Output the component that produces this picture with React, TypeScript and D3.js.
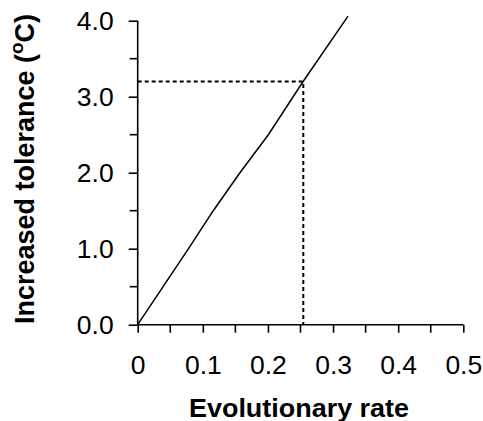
import * as d3 from "d3";
import { useEffect, useRef } from "react";

// values
const rate = [0, 0.078, 0.116, 0.157, 0.2006, 0.254, 0.323];
const tolerance = [0, 1.0, 1.5, 2.0, 2.5, 3.2, 4.06];
const xTicks = [0, 0.1, 0.2, 0.3, 0.4, 0.5];
const xMinor = [0.05, 0.15, 0.25, 0.35, 0.45];
const yTicks = [0, 1, 2, 3, 4];
const yMinor = [0.5, 1.5, 2.5, 3.5];
const marker = [0.2543, 3.2];

export default function App() {
  const svgRef = useRef(null);

  useEffect(() => {
    const width = 483;
    const height = 421;
    const svg = d3.select(svgRef.current);
    svg.selectAll("*").remove();

    //scales
    const x = d3.scaleLinear().domain([0, 0.5]).range([137.7, 463.3]);
    const y = d3.scaleLinear().domain([0, 4]).range([324.7, 20.7]);
    const font = "'Liberation Sans', Arial, Helvetica, sans-serif";

    //axes
    const xAxis = d3
      .axisBottom(x)
      .tickValues(xTicks)
      .tickFormat((d) => (d === 0 ? "0" : d3.format(".1f")(d)))
      .tickSize(8)
      .tickPadding(22);
    const gx = svg
      .append("g")
      .attr("transform", `translate(0,${y(0)})`)
      .call(xAxis);
    gx.select(".domain").attr("d", `M${x(0)},0H${x(0.5)}`);
    gx.selectAll(".minor")
      .data(xMinor)
      .enter()
      .append("line")
      .attr("class", "minor")
      .attr("x1", (d) => x(d))
      .attr("x2", (d) => x(d))
      .attr("y1", 0)
      .attr("y2", 8)
      .attr("stroke", "#000");

    const yAxis = d3
      .axisLeft(y)
      .tickValues(yTicks)
      .tickFormat(d3.format(".1f"))
      .tickSize(9)
      .tickPadding(15);
    const gy = svg
      .append("g")
      .attr("transform", `translate(${x(0)},0)`)
      .call(yAxis);
    gy.select(".domain").attr("d", `M0,${y(0)}V${y(4)}`);
    gy.selectAll(".minor")
      .data(yMinor)
      .enter()
      .append("line")
      .attr("class", "minor")
      .attr("y1", (d) => y(d))
      .attr("y2", (d) => y(d))
      .attr("x1", 0)
      .attr("x2", -8)
      .attr("stroke", "#000");

    svg.selectAll(".domain, .tick line, .minor").attr("stroke", "#000").attr("stroke-width", 1.6);
    svg.selectAll(".tick text")
      .attr("font-family", font)
      .attr("font-size", 26.5)
      .attr("fill", "#000");

    //dotted guides
    const guide = d3.line();
    svg
      .append("path")
      .attr("d", guide([[x(0), y(marker[1])], [x(marker[0]), y(marker[1])], [x(marker[0]), y(0)]]))
      .attr("fill", "none")
      .attr("stroke", "#000")
      .attr("stroke-width", 2)
      .attr("stroke-dasharray", "4,3");

    //the line
    const line = d3
      .line()
      .x((d) => x(d[0]))
      .y((d) => y(d[1]));
    svg
      .append("path")
      .attr("d", line(rate.map((r, i) => [r, tolerance[i]])))
      .attr("fill", "none")
      .attr("stroke", "#000")
      .attr("stroke-width", 1.5);

    //axis titles
    svg
      .append("text")
      .attr("x", 299)
      .attr("y", 416.5)
      .attr("text-anchor", "middle")
      .attr("font-family", font)
      .attr("font-weight", "bold")
      .attr("font-size", 25)
      .attr("textLength", 220)
      .attr("lengthAdjust", "spacingAndGlyphs")
      .text("Evolutionary rate");

    const yl = svg
      .append("text")
      .attr("transform", "translate(33.5,169) rotate(-90)")
      .attr("text-anchor", "middle")
      .attr("font-family", font)
      .attr("font-weight", "bold")
      .attr("font-size", 27);
    yl.append("tspan").text("Increased tolerance (");
    yl.append("tspan").attr("dy", -11).attr("font-size", 19).text("o");
    yl.append("tspan").attr("dy", 11).text("C)");

    svg.attr("width", width).attr("height", height);
  }, []);

  return (
    <svg
      ref={svgRef}
      width={483}
      height={421}
      style={{ position: "absolute", left: 0, top: 0, background: "#fff" }}
    ></svg>
  );
}
